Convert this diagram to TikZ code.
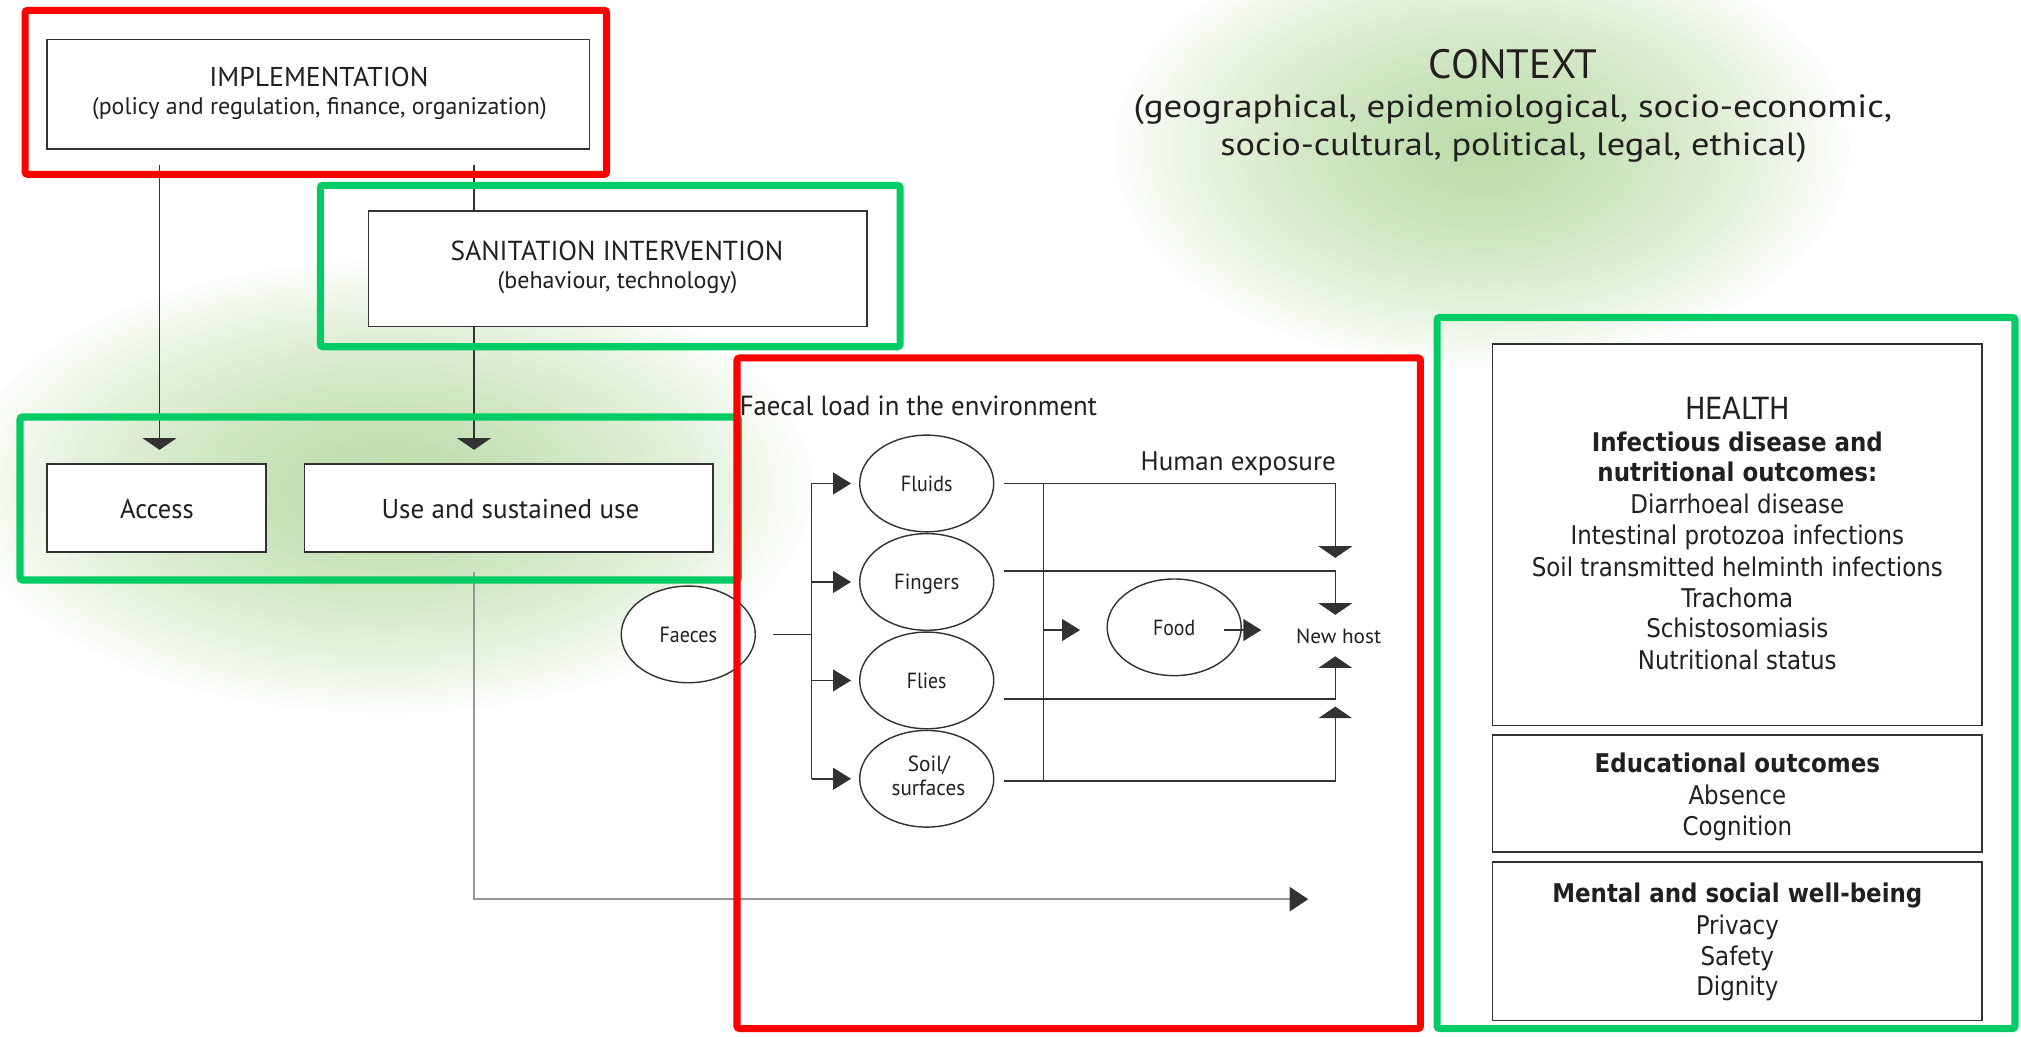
\documentclass[tikz,border=0pt]{standalone}
\usepackage{fontspec}
\usepackage{graphicx}
\usetikzlibrary{arrows.meta,calc,shapes.geometric}
\newfontfamily\myr{PT Sans}
\newfontfamily\tah[FakeStretch=0.89]{DejaVu Sans}
\definecolor{ink}{RGB}{35,31,32}
\definecolor{frred}{RGB}{255,0,0}
\definecolor{frgreen}{RGB}{0,204,102}
\definecolor{hazegreen}{RGB}{150,200,120}
\definecolor{wire}{RGB}{50,50,50}
\definecolor{greywire}{RGB}{150,150,150}
% set a line of text to a given width, keeping its height
\newcommand{\fitto}[2]{\resizebox{#1pt}{\height}{#2}}
% soft glow: stacked translucent ellipses, denser towards the centre
\newcommand{\glow}[3]{%
  \foreach \k in {1,...,32}{%
    \fill[hazegreen, fill opacity=0.03] (#1) ellipse [x radius={#2*\k/32}, y radius={#3*\k/32}];
  }%
}
\begin{document}
\begin{tikzpicture}[x=1pt,y=-1pt,
  every node/.style={inner sep=0pt, outer sep=0pt, text=ink},
  box/.style={draw=wire, line width=1.2pt, fill=white, rectangle},
  ell/.style={ellipse, draw=wire, line width=1.1pt, fill=white, minimum width=104pt,
    minimum height=75pt, text height=12pt, text depth=0pt, font=\fontsize{17}{20}\myr},
  conn/.style={draw=wire, line width=1.2pt},
  greyconn/.style={draw=greywire, line width=1.1pt},
  flatarrow/.style={-{Triangle[width=26pt,length=9pt]}},
  sharparrow/.style={-{Triangle[width=17pt,length=14pt]}},
  redframe/.style={draw=frred, line width=5.5pt, rounded corners=2pt},
  greenframe/.style={draw=frgreen, line width=5.5pt, rounded corners=2pt},
  lbl/.style={anchor=base},
  htext/.style={anchor=base, font=\fontsize{20}{24}\tah},
  hbold/.style={anchor=base, font=\fontsize{20}{24}\tah\bfseries},
]
\useasboundingbox (0,0) rectangle (1568,804);

% background glow
\begin{scope}
  \clip (0,0) rectangle (1568,804);
  \glow{1150,115}{285}{170}
  \glow{300,378}{330}{175}
\end{scope}

% boxes
\node[box, minimum width=421pt, minimum height=85pt] (impl) at (247,73.2) {};
\node[box, minimum width=387pt, minimum height=89.4pt] (sanit) at (479.35,208.6) {};
\node[box, minimum width=170pt, minimum height=68.3pt] (access) at (121.35,394.05) {};
\node[box, minimum width=316.8pt, minimum height=68.2pt] (use) at (394.6,394) {};
\node[box, minimum width=379.8pt, minimum height=296.3pt] (health) at (1347.9,414.85) {};
\node[box, minimum width=379.8pt, minimum height=90.9pt] (edu) at (1347.9,615.75) {};
\node[box, minimum width=379.8pt, minimum height=123.2pt] (mental) at (1347.9,730.2) {};

% box texts
\node[lbl, font=\fontsize{21.1}{25}\myr] (implT) at (247.4,66.8) {\fitto{170}{IMPLEMENTATION}};
\node[lbl, font=\fontsize{18.6}{22}\myr] (implS) at (247.8,89.1) {\fitto{352.7}{(policy and regulation, finance, organization)}};
\node[lbl, font=\fontsize{21.3}{25}\myr] (sanitT) at (478.7,201.9) {\fitto{258}{SANITATION INTERVENTION}};
\node[lbl, font=\fontsize{18.6}{22}\myr] (sanitS) at (479.1,224.2) {\fitto{186}{(behaviour, technology)}};
\node[lbl, font=\fontsize{21.1}{25}\myr] (accessT) at (121.75,402.3) {\fitto{57}{Access}};
\node[lbl, font=\fontsize{21.1}{25}\myr] (useT) at (396,402.3) {\fitto{200}{Use and sustained use}};

% context heading
\node[lbl, font=\fontsize{31.8}{36}\myr] (ctxT) at (1174,60.8) {\fitto{131}{CONTEXT}};
\node[lbl, font=\fontsize{25}{30}\myr] (ctx1) at (1173.8,91) {\fitto{588.5}{(geographical, epidemiological, socio-economic,}};
\node[lbl, font=\fontsize{25}{30}\myr] (ctx2) at (1174.3,120.5) {\fitto{455}{socio-cultural, political, legal, ethical)}};

% faecal load section
\node[lbl, anchor=base west, font=\fontsize{21.5}{25}\myr] (faecal) at (574,322.5) {\fitto{277}{Faecal load in the environment}};
\node[lbl, anchor=base east, font=\fontsize{20.8}{25}\myr] (expo) at (1036.5,365) {\fitto{151.5}{Human exposure}};
\node[ell] (fluids) at (719,375.1) {\fitto{40}{Fluids}};
\node[ell] (fingers) at (719,451.5) {\fitto{50.5}{Fingers}};
\node[ell] (flies) at (719,527.9) {\fitto{30.7}{Flies}};
\node[ell] (soil) at (719,604.2) {};
\node[lbl, font=\fontsize{17}{20}\myr] (soil1) at (720.7,598.5) {\fitto{32.7}{Soil/}};
\node[lbl, font=\fontsize{17}{20}\myr] (soil2) at (720.3,617) {\fitto{57}{surfaces}};
\node[ell] (faeces) at (534,492.2) {\fitto{44.5}{Faeces}};
\node[ell] (food) at (911,486.7) {\fitto{32.7}{Food}};
\node[lbl, font=\fontsize{16}{19}\myr] (host) at (1038.6,499) {\fitto{66}{New host}};

% implementation and intervention links
\coordinate (accTip) at (123.8,349);
\coordinate (useTip) at (367.8,349);
\draw[conn, flatarrow] ($(impl.south -| accTip)+(0,12)$) -- (accTip);
\draw[conn] ($(impl.south -| useTip)+(0,12)$) -- (sanit.north -| useTip);
\draw[conn, flatarrow] (sanit.south -| useTip) -- (useTip);

% use leads on to the outcomes
\coordinate (outTip) at (1015,697.6);
\draw[greyconn, -{Triangle[width=19pt,length=14.5pt,color=wire]}]
  ($(use.south -| useTip)+(0,16)$) |- (outTip);

% faeces fan out to the four routes
\coordinate (fork) at (629.6,492.2);
\draw[conn] ($(faeces.east)+(14,0)$) -- (fork);
\draw[conn] (fluids.west -| fork) -- (soil.west -| fork);
\foreach \e in {fluids,fingers,flies,soil}
  \draw[conn, sharparrow] (\e.west -| fork) -- ($(\e.west)+(-6.7,0)$);

% routes to the new host
\coordinate (hA) at (1036,432.8);
\coordinate (hB) at (1036,477);
\coordinate (hC) at (1036,509.2);
\coordinate (hD) at (1036,548.2);
\draw[conn, flatarrow] ($(fluids.east)+(8,0)$) -| (hA);
\draw[conn, flatarrow] ($(fingers.center)+(60,-8.5)$) -| (hB);
\draw[conn, flatarrow] ($(flies.center)+(60,14.2)$) -| (hC);
\draw[conn, flatarrow] ($(soil.center)+(60,1.7)$) -| (hD);
\draw[conn] ($(fluids.east)+(38.5,0)$) -- ($(soil.center)+(90.5,1.7)$);
\draw[conn, sharparrow] ($(food.west)+(-49.5,2.1)$) -- ($(food.west)+(-21,2.1)$);
\draw[conn, sharparrow] ($(food.east)+(-13.4,2.1)$) -- ($(food.east)+(15.6,2.1)$);

% outcome texts
\node[lbl, font=\fontsize{23.7}{28}\tah] (hT) at (1347.9,325.3) {HEALTH};
\node[hbold] (h1) at (1347.9,350.3) {Infectious disease and};
\node[hbold] (h2) at (1347.9,373.7) {nutritional outcomes:};
\node[htext] (h3) at (1347.9,398.7) {Diarrhoeal disease};
\node[htext] (h4) at (1347.9,422.5) {Intestinal protozoa infections};
\node[htext] (h5) at (1347.9,447) {Soil transmitted helminth infections};
\node[htext] (h6) at (1347.9,471.3) {Trachoma};
\node[htext] (h7) at (1347.9,494.7) {Schistosomiasis};
\node[htext] (h8) at (1347.9,519.7) {Nutritional status};
\node[hbold] (e1) at (1347.9,599.6) {Educational outcomes};
\node[htext] (e2) at (1347.9,624) {Absence};
\node[htext] (e3) at (1347.9,648) {Cognition};
\node[hbold] (m1) at (1347.9,700.5) {Mental and social well-being};
\node[htext] (m2) at (1347.9,725) {Privacy};
\node[htext] (m3) at (1347.9,749) {Safety};
\node[htext] (m4) at (1347.9,772.7) {Dignity};

% highlight frames
\draw[redframe] (19.5,8) rectangle (470.6,135.3);
\draw[greenframe] (248.5,143.8) rectangle (698.3,269);
\draw[greenframe] (15.5,323.5) rectangle (573,450);
\draw[redframe] (571.8,277.7) rectangle (1102,798);
\draw[greenframe] (1115,246.3) rectangle (1563.3,798);
\end{tikzpicture}
\end{document}
